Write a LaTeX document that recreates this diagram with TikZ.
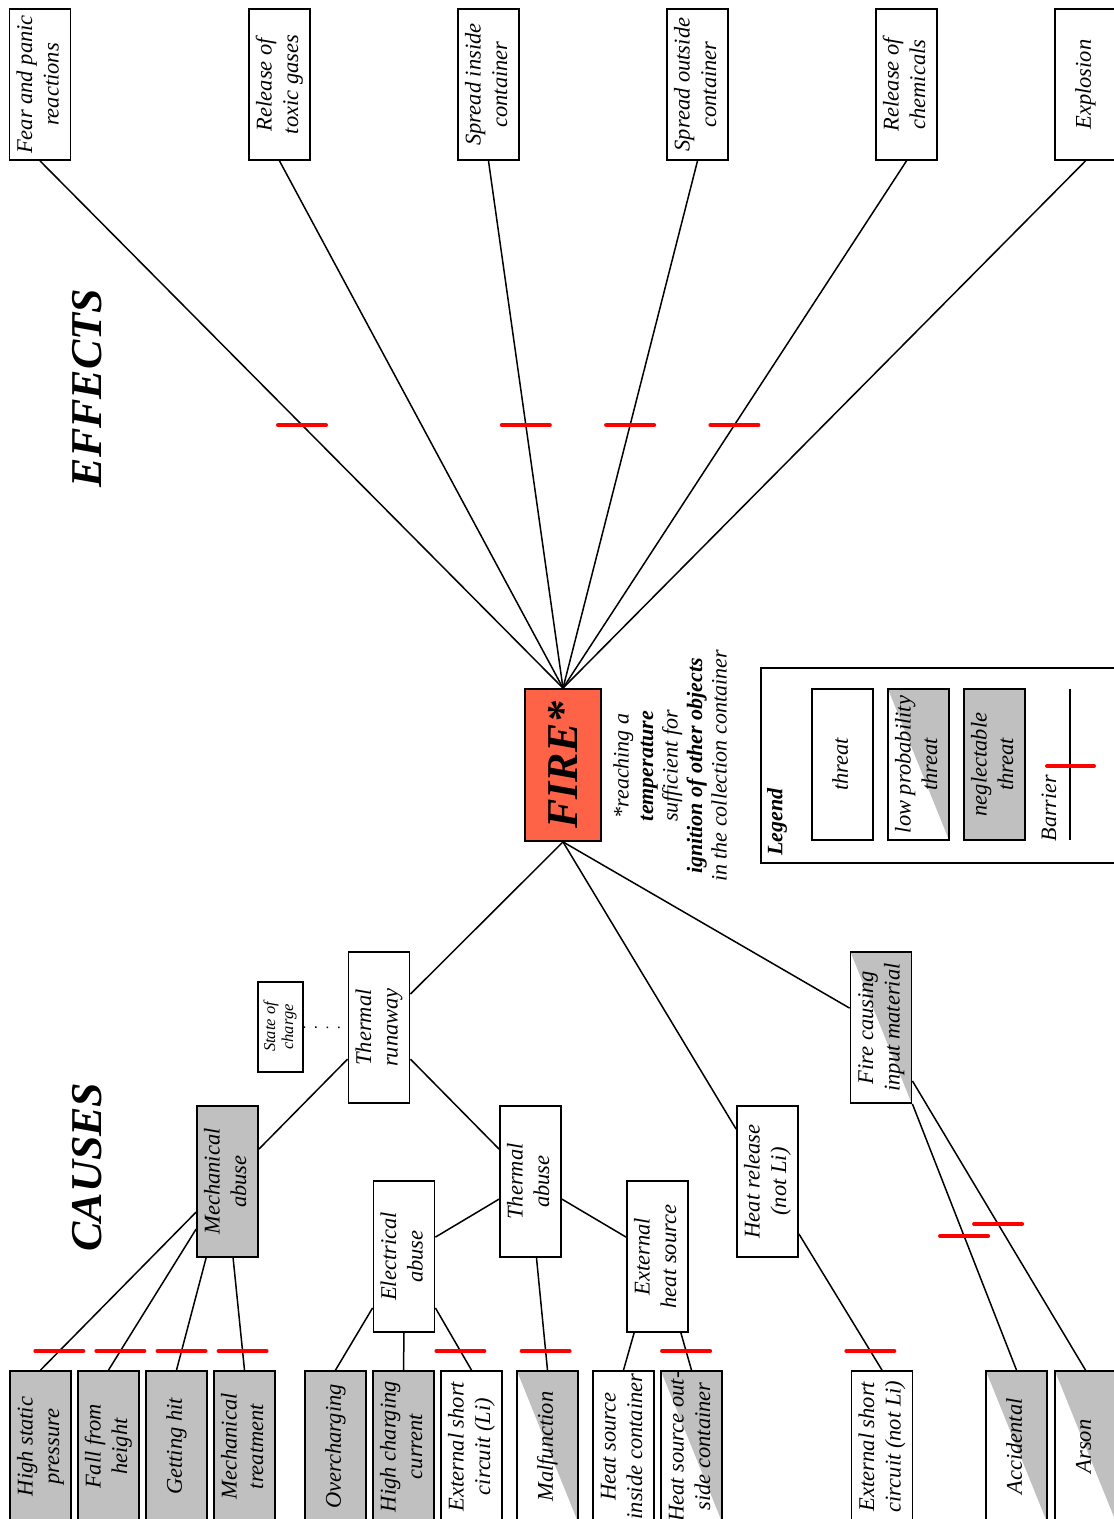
\documentclass[tikz,border=0pt]{standalone}
\usepackage{fontspec}
\setmainfont{Liberation Serif}
\usepackage{graphicx}
\usetikzlibrary{calc,intersections}
\definecolor{lgray}{RGB}{192,192,192}
\definecolor{firered}{RGB}{255,99,71}
\newcommand\turntext[1]{\rotatebox{90}{\begin{tabular}{@{}c@{}}#1\end{tabular}}}
\newcommand\cutmark[3]{%
  \path[name path=cmA] #1 -- #2;
  \path[name path=cmB] (0,#3) -- (1200,#3);
  \draw[barrier, name intersections={of=cmA and cmB, by=cmX}] ([xshift=-24pt]cmX) -- ([xshift=24pt]cmX);}
\newcommand\linkcut[3]{\draw[link] #1 -- #2; \cutmark{#1}{#2}{#3}}
\tikzset{
  threatbox/.style={draw, line width=1.8pt, fill=white, minimum width=61pt, minimum height=151pt,
    inner sep=0pt, font=\fontsize{22.5}{26.5}\selectfont\itshape},
  negbox/.style={threatbox, fill=lgray},
  lowbox/.style={threatbox, path picture={\fill[lgray] (path picture bounding box.north west) --
    (path picture bounding box.north east) -- (path picture bounding box.south east) -- cycle;}},
  link/.style={line width=1.5pt},
  barrier/.style={draw=red, line width=4pt, line cap=round},
  rottext/.style={rotate=90, inner sep=0pt, font=\fontsize{22}{24.5}\selectfont\itshape},
  heading/.style={rotate=90, inner sep=0pt, font=\fontsize{44}{48}\selectfont\bfseries\itshape}
}
\begin{document}
\begin{tikzpicture}[x=1pt,y=-1pt]
\useasboundingbox[fill=white] (0,0) rectangle (1114,1519);

% headings
\node[heading] (eff) at (87,388) {EFFECTS};
\node[heading] (cau) at (87,1167) {CAUSES};

% effects
\node[threatbox] (fear) at (40,84.5) {\turntext{Fear and panic\\reactions}};
\node[threatbox] (tox) at (279.5,84.5) {\turntext{Release of\\toxic gases}};
\node[threatbox] (sin) at (488.5,84.5) {\turntext{Spread inside\\container}};
\node[threatbox] (sout) at (697.5,84.5) {\turntext{Spread outside\\container}};
\node[threatbox] (chem) at (906.5,84.5) {\turntext{Release of\\chemicals}};
\node[threatbox] (expl) at (1085.5,84.5) {\turntext{Explosion}};

% fire
\node[draw, line width=1.8pt, fill=firered, minimum width=76pt, minimum height=152pt, inner sep=0pt,
  font=\fontsize{44}{48}\selectfont\bfseries\itshape] (fire) at (563,765) {\rotatebox{90}{FIRE*}};
\node[rottext, align=center] (note) at (670,766)
  {*reaching a\\\textbf{temperature}\\sufficient for\\\textbf{ignition of other objects}\\in the collection container};

% middle causes
\node[negbox] (mech) at (227.5,1181.5) {\turntext{Mechanical\\abuse}};
\node[threatbox] (tr) at (379,1027.5) {\turntext{Thermal\\runaway}};
\node[draw, line width=1.3pt, fill=white, minimum width=45pt, minimum height=90pt, inner sep=0pt,
  font=\fontsize{16.5}{18}\selectfont\itshape] (soc) at (280.5,1027) {\turntext{State of\\charge}};
\node[threatbox] (ta) at (530.5,1181.5) {\turntext{Thermal\\abuse}};
\node[threatbox] (ea) at (404,1256.5) {\turntext{Electrical\\abuse}};
\node[threatbox] (ehs) at (657.5,1256.5) {\turntext{External\\heat source}};
\node[threatbox] (hr) at (767.5,1181.5) {\turntext{Heat release\\(not Li)}};
\node[lowbox] (fcim) at (881,1027.5) {\turntext{Fire causing\\input material}};

% bottom causes
\node[negbox] (hsp) at (40.5,1446.5) {\turntext{High static\\pressure}};
\node[negbox] (ffh) at (108.5,1446.5) {\turntext{Fall from\\height}};
\node[negbox] (gh) at (176.5,1446.5) {\turntext{Getting hit}};
\node[negbox] (mt) at (244.5,1446.5) {\turntext{Mechanical\\treatment}};
\node[negbox] (oc) at (335.5,1446.5) {\turntext{Overcharging}};
\node[negbox] (hcc) at (403.5,1446.5) {\turntext{High charging\\current}};
\node[threatbox] (esl) at (471.5,1446.5) {\turntext{External short\\circuit (Li)}};
\node[lowbox] (mal) at (547.5,1446.5) {\turntext{Malfunction}};
\node[threatbox] (hsi) at (623.5,1446.5) {\turntext{Heat source\\inside container}};
\node[lowbox] (hso) at (691.5,1446.5) {\turntext{Heat source out-\\side container}};
\node[threatbox] (esn) at (882,1446.5) {\turntext{External short\\circuit (not Li)}};
\node[lowbox] (acc) at (1016.5,1446.5) {\turntext{Accidental}};
\node[lowbox] (ars) at (1085.5,1446.5) {\turntext{Arson}};

% legend
\node[draw, line width=1.5pt, minimum width=370pt, minimum height=195pt, inner sep=0pt, anchor=north west] (legend) at (760,667) {};
\node[rotate=90, inner sep=0pt, font=\fontsize{22}{26}\selectfont\bfseries\itshape] (legtitle) at (777,822) {Legend};
\node[threatbox] (lg1) at (842.5,764.5) {\turntext{threat}};
\node[lowbox] (lg2) at (918.5,764.5) {\turntext{low probability\\threat}};
\node[negbox] (lg3) at (994.5,764.5) {\turntext{neglectable\\threat}};
\coordinate (bt) at (1070,689);
\coordinate (bb) at (1070,840);
\coordinate (bl) at (1047,766);
\coordinate (br) at (1094,766);
\draw[link] (bt) -- (bb);
\draw[barrier] (bl) -- (br);
\node[rottext] (barlabel) at (1049,808) {Barrier};

% effect connectors
\linkcut{(fear.south)}{(fire.north)}{425}
\draw[link] (tox.south) -- (fire.north);
\linkcut{(sin.south)}{(fire.north)}{425}
\linkcut{(sout.south)}{(fire.north)}{425}
\linkcut{(chem.south)}{(fire.north)}{425}
\draw[link] (expl.south) -- (fire.north);

% cause connection points
\coordinate (tr1) at ($(tr.north east)+(0,43)$);
\coordinate (hr1) at ($(hr.north west)+(0,24)$);
\coordinate (fc1) at ($(fcim.north west)+(0,57)$);
\coordinate (tr2) at ($(tr.north west)+(0,108)$);
\coordinate (me1) at ($(mech.north east)+(0,44)$);
\coordinate (tr3) at ($(tr.north east)+(0,108)$);
\coordinate (ta1) at ($(ta.north west)+(0,44)$);
\coordinate (ta2) at ($(ta.north west)+(0,94)$);
\coordinate (ea1) at ($(ea.north east)+(0,57)$);
\coordinate (ta3) at ($(ta.north east)+(0,94)$);
\coordinate (eh1) at ($(ehs.north west)+(0,57)$);
\coordinate (ta4) at ($(ta.south)+(6,0)$);
\coordinate (ea2) at ($(ea.south west)+(0,-25)$);
\coordinate (ea3) at ($(ea.south east)+(0,-25)$);
\coordinate (eh2) at ($(ehs.south west)+(8,0)$);
\coordinate (eh3) at ($(ehs.south east)+(-8,0)$);
\coordinate (hr2) at ($(hr.south east)+(0,-24)$);
\coordinate (fc2) at (fcim.south east);
\coordinate (fc3) at ($(fcim.south east)+(0,-23)$);
\coordinate (me2) at ($(mech.north west)+(0,107)$);
\coordinate (me3) at ($(mech.north west)+(0,124)$);
\coordinate (me4) at ($(mech.south west)+(10,0)$);
\coordinate (me5) at ($(mech.south west)+(37,0)$);

\draw[link] (fire.south) -- (tr1);
\draw[link] (fire.south) -- (hr1);
\draw[link] (fire.south) -- (fc1);
\draw[link] (tr2) -- (me1);
\draw[link] (tr3) -- (ta1);
\draw[line width=1.5pt, dash pattern=on 1.5pt off 10pt] (soc.east) -- (tr.west);
\draw[link] (ta2) -- (ea1);
\draw[link] (ta3) -- (eh1);
\linkcut{(ta4)}{(mal.north)}{1351}
\draw[link] (ea2) -- (oc.north);
\draw[link] (ea.south) -- (hcc.north);
\linkcut{(ea3)}{(esl.north)}{1351}
\draw[link] (eh2) -- (hsi.north);
\linkcut{(eh3)}{(hso.north)}{1351}
\linkcut{(hr2)}{(esn.north)}{1351}
\linkcut{(fc2)}{(acc.north)}{1236}
\linkcut{(fc3)}{(ars.north)}{1224}
\linkcut{(me2)}{(hsp.north)}{1351}
\linkcut{(me3)}{(ffh.north)}{1351}
\linkcut{(me4)}{(gh.north)}{1351}
\linkcut{(me5)}{(mt.north)}{1351}
\end{tikzpicture}
\end{document}
